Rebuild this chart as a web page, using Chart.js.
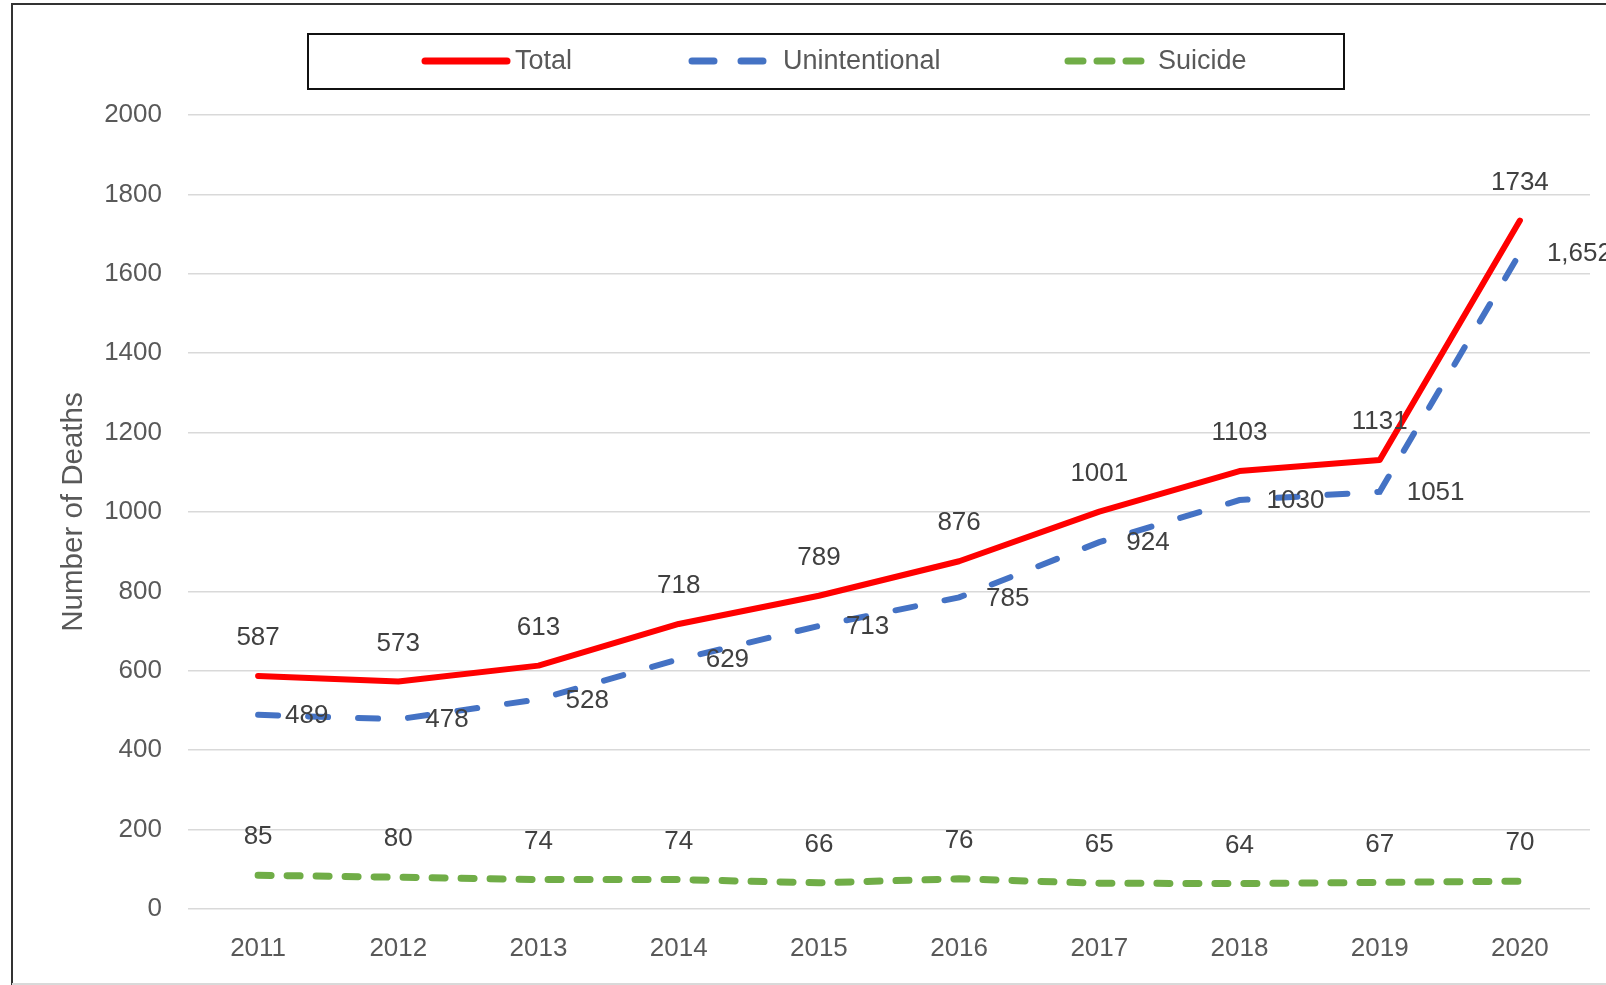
<!DOCTYPE html>
<html>
<head>
<meta charset="utf-8">
<script src="https://cdn.jsdelivr.net/npm/chart.js@4.4.1/dist/chart.umd.min.js"></script>
<style>
  html, body { margin: 0; padding: 0; background: #fff; }
  #wrap { width: 1606px; height: 985px; }
</style>
</head>
<body>
<div id="wrap"><canvas id="deathsChart" width="1606" height="985"></canvas></div>
<script>
// data
const years = ['2011', '2012', '2013', '2014', '2015', '2016', '2017', '2018', '2019', '2020'];
const total = [587, 573, 613, 718, 789, 876, 1001, 1103, 1131, 1734];
const unintentional = [489, 478, 528, 629, 713, 785, 924, 1030, 1051, 1652];
const suicide = [85, 80, 74, 74, 66, 76, 65, 64, 67, 70];
const unintentionalText = ['489', '478', '528', '629', '713', '785', '924', '1030', '1051', '1,652'];
const yTicks = [0, 200, 400, 600, 800, 1000, 1200, 1400, 1600, 1800, 2000];

const FONT = '"Liberation Sans", Arial, sans-serif';
const RED = '#ff0000';
const BLUE = '#4472c4';
const GREEN = '#70ad47';

// data labels, frame and boxed legend (Excel look)
const excelBits = {
  id: 'excelBits',
  beforeDraw(chart) {
    const ctx = chart.ctx;
    ctx.save();
    ctx.fillStyle = '#fff';
    ctx.fillRect(0, 0, chart.width, chart.height);
    ctx.strokeStyle = '#333';
    ctx.lineWidth = 2;
    ctx.beginPath();
    ctx.moveTo(12, chart.height);
    ctx.lineTo(12, 4);
    ctx.lineTo(chart.width, 4);
    ctx.stroke();
    ctx.strokeStyle = '#d9d9d9';
    ctx.beginPath();
    ctx.moveTo(12, chart.height - 1);
    ctx.lineTo(chart.width, chart.height - 1);
    ctx.stroke();
    ctx.restore();
  },
  afterDatasetsDraw(chart) {
    const ctx = chart.ctx;
    ctx.save();
    ctx.font = '26px ' + FONT;
    ctx.fillStyle = '#404040';
    chart.data.datasets.forEach((ds, i) => {
      const meta = chart.getDatasetMeta(i);
      meta.data.forEach((pt, j) => {
        const txt = ds.labelText ? ds.labelText[j] : String(ds.data[j]);
        if (ds.labelPos === 'right') {
          ctx.textAlign = 'left';
          ctx.textBaseline = 'middle';
          ctx.fillText(txt, pt.x + 27, pt.y + 1);
        } else {
          ctx.textAlign = 'center';
          ctx.textBaseline = 'middle';
          ctx.fillText(txt, pt.x, pt.y - 38);
        }
      });
    });
    ctx.restore();
  },
  afterDraw(chart) {
    const ctx = chart.ctx;
    ctx.save();
    ctx.strokeStyle = '#111';
    ctx.lineWidth = 2;
    ctx.strokeRect(308, 34, 1036, 55);

    const y = 61;
    const items = [
      { text: 'Total', color: RED, x0: 425, x1: 507, dash: [], tx: 515 },
      { text: 'Unintentional', color: BLUE, x0: 692, x1: 763, dash: [22, 27], tx: 783 },
      { text: 'Suicide', color: GREEN, x0: 1068, x1: 1141, dash: [15, 14], tx: 1158 }
    ];
    items.forEach(it => {
      ctx.strokeStyle = it.color;
      ctx.lineWidth = 7;
      ctx.lineCap = 'round';
      ctx.setLineDash(it.dash);
      ctx.beginPath();
      ctx.moveTo(it.x0, y);
      ctx.lineTo(it.x1, y);
      ctx.stroke();
      ctx.setLineDash([]);
      ctx.font = '27px ' + FONT;
      ctx.fillStyle = '#595959';
      ctx.textAlign = 'left';
      ctx.textBaseline = 'middle';
      ctx.fillText(it.text, it.tx, y + 1);
    });
    ctx.restore();
  }
};

new Chart(document.getElementById('deathsChart'), {
  type: 'line',
  data: {
    labels: years,
    datasets: [
      {
        label: 'Total',
        data: total,
        borderColor: RED,
        borderWidth: 6,
        borderCapStyle: 'round',
        borderJoinStyle: 'round',
        labelPos: 'above'
      },
      {
        label: 'Unintentional',
        data: unintentional,
        borderColor: BLUE,
        borderWidth: 6,
        borderDash: [20, 30],
        borderCapStyle: 'round',
        labelPos: 'right',
        labelText: unintentionalText
      },
      {
        label: 'Suicide',
        data: suicide,
        borderColor: GREEN,
        borderWidth: 7,
        borderDash: [13, 16],
        borderCapStyle: 'round',
        labelPos: 'above'
      }
    ]
  },
  options: {
    responsive: false,
    animation: false,
    devicePixelRatio: 1,
    layout: {
      padding: { top: 115, right: 16, bottom: 0, left: 0 }
    },
    elements: {
      point: { radius: 0, hoverRadius: 0 },
      line: { tension: 0, fill: false }
    },
    plugins: {
      legend: { display: false },
      tooltip: { enabled: false }
    },
    scales: {
      x: {
        offset: true,
        grid: { display: false },
        border: { display: false },
        ticks: {
          color: '#595959',
          padding: 16,
          font: { family: FONT, size: 26 }
        },
        afterFit(scale) { scale.height = 76; }
      },
      y: {
        min: 0,
        max: 2000,
        afterBuildTicks(scale) { scale.ticks = yTicks.map(v => ({ value: v })); },
        grid: {
          color: '#d9d9d9',
          lineWidth: 1.5,
          drawTicks: false
        },
        border: { display: false },
        ticks: {
          color: '#595959',
          padding: 26,
          font: { family: FONT, size: 26 },
          callback: (v) => String(v)
        },
        title: {
          display: true,
          text: 'Number of Deaths',
          color: '#595959',
          padding: { top: 56, bottom: 0 },
          font: { family: FONT, size: 29.5 }
        },
        afterFit(scale) { scale.width = 188; }
      }
    }
  },
  plugins: [excelBits]
});
</script>
</body>
</html>
